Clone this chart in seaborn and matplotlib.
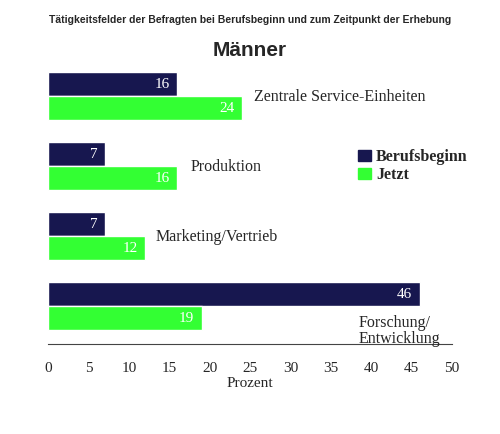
import numpy as np
import pandas as pd
import seaborn as sns
import matplotlib.pyplot as plt

kategorien = ["Zentrale Service-Einheiten", "Produktion", "Marketing/Vertrieb", "Forschung/\nEntwicklung"]
berufsbeginn = [16, 7, 7, 46]
jetzt = [24, 16, 12, 19]
serien = ["Berufsbeginn", "Jetzt"]
farben = ["#17174f", "#33ff33"]

df = pd.DataFrame({
    "Kategorie": kategorien * 2,
    "Prozent": berufsbeginn + jetzt,
    "Serie": [serien[0]] * 4 + [serien[1]] * 4,
})

sns.set_style("white")
plt.rcParams['font.family'] = ['DejaVu Sans']
serif = "Liberation Serif"

fig = plt.figure(figsize=(5.0, 4.35), dpi=100)
ax = fig.add_axes([0.096, 0.207, 0.808, 0.637])
sns.barplot(data=df, y="Kategorie", x="Prozent", hue="Serie", palette=farben,
            orient="h", width=0.686, saturation=1, ax=ax, legend=False)

# Werte in den Balken
for cont in ax.containers:
    for rect in cont:
        w = rect.get_width()
        yc = rect.get_y() + rect.get_height() / 2
        ax.text(w - 0.9, yc, f"{int(w)}", color="white", ha="right", va="center",
                family=serif, fontsize=11)

# Kategorienamen
label_pos = [(25.5, 0.0), (17.7, 0.0), (13.3, 0.0), (38.5, 0.35)]
for name, (lx, ly), i in zip(kategorien, label_pos, range(4)):
    ax.text(lx, i + ly, name, ha="left", va="center", family=serif, fontsize=11.5,
            linespacing=1.0)

ax.set_xlim(0, 50)
ax.set_ylim(3.543, -0.414)
ax.set_xticks(np.arange(0, 51, 5))
ax.set_yticks([])
ax.set_ylabel("")
ax.set_xlabel("Prozent", family=serif, fontsize=11, labelpad=2)
for lab in ax.get_xticklabels():
    lab.set_family(serif)
    lab.set_fontsize(11)
for s in ["top", "right", "left"]:
    ax.spines[s].set_visible(False)
ax.spines["bottom"].set_color("#444444")
ax.tick_params(axis="x", direction="out", length=8, width=0.8, color="#444444", pad=4)

# Legende
for k, (s, c) in enumerate(zip(serien, farben)):
    y = 0.64 - k * 0.042
    fig.patches.append(plt.Rectangle((0.716, y - 0.012), 0.026, 0.026, color=c,
                                     transform=fig.transFigure))
    fig.text(0.752, y, s, family=serif, fontsize=11.5, fontweight="bold", va="center")

fig.text(0.5, 0.955, "Tätigkeitsfelder der Befragten bei Berufsbeginn und zum Zeitpunkt der Erhebung",
         ha="center", va="center", fontsize=7.5, fontweight="bold", family="Liberation Sans")
fig.text(0.5, 0.885, "Männer", ha="center", va="center", fontsize=15, fontweight="bold",
         family="Liberation Sans")

fig.savefig("out.png", dpi=100)
